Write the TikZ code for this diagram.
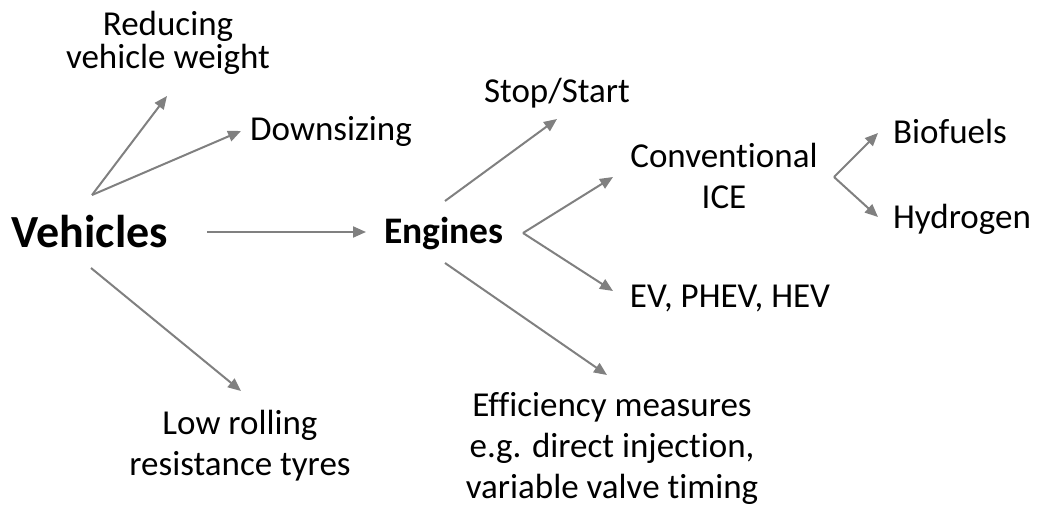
\documentclass[tikz,border=0pt]{standalone}
\usepackage{fontspec}
\setmainfont{Carlito}[Ligatures=NoCommon]
\usetikzlibrary{arrows.meta}
\definecolor{arrowgray}{RGB}{128,128,128}
\tikzset{
  lbl/.style={inner sep=0pt, outer sep=0pt, anchor=base, align=center,
    font=\fontsize{35}{41}\selectfont},
  bigbold/.style={lbl, font=\fontsize{46}{52}\selectfont\bfseries},
  midbold/.style={lbl, font=\fontsize{37.5}{43}\selectfont\bfseries},
  arr/.style={draw=arrowgray, line width=2pt,
    -{Triangle[length=13pt,width=11pt]}}
}
\begin{document}
\begin{tikzpicture}[x=1pt,y=-1pt]
\useasboundingbox (0,0) rectangle (1039,506);

% hubs (multi-line labels sit on the baseline of their last line)
\node[bigbold] (veh) at (90,247) {Vehicles};
\node[midbold] (eng) at (444,243) {Engines};

% vehicle measures
\node[lbl, font=\fontsize{35}{33}\selectfont] (red) at (168,68) {Reducing\\vehicle weight};
\node[lbl] (down) at (331,140) {Downsizing};
\node[lbl] (low) at (240,475) {Low rolling\\resistance tyres};

% engine options
\node[lbl] (stop) at (557,102) {Stop/Start};
\node[lbl] (conv) at (724,208) {Conventional\\ICE};
\node[lbl] (ev) at (730,307) {EV, PHEV, HEV};
\node[lbl] (eff) at (612,498) {Efficiency measures\\e.g. direct injection,\\variable valve timing};

% fuels
\node[lbl] (bio) at (950,143) {Biofuels};
\node[lbl] (hyd) at (962,228) {Hydrogen};

% connectors
\draw[arr] ([shift={(2pt,52pt)}]veh.base) -- ([shift={(-1pt,-28pt)}]red.base);
\draw[arr] ([shift={(2pt,52pt)}]veh.base) -- ([shift={(-90pt,9pt)}]down.base);
\draw[arr] ([shift={(117pt,15pt)}]veh.base) -- ([shift={(-78pt,11pt)}]eng.base);
\draw[arr] ([shift={(1pt,-21pt)}]veh.base) -- ([shift={(1pt,84pt)}]low.base);

\draw[arr] ([shift={(1pt,42pt)}]eng.base) -- ([shift={(0pt,-17pt)}]stop.base);
\draw[arr] ([shift={(79pt,10pt)}]eng.base) -- ([shift={(-111pt,31pt)}]conv.base);
\draw[arr] ([shift={(79pt,10pt)}]eng.base) -- ([shift={(-117pt,16pt)}]ev.base);
\draw[arr] ([shift={(1pt,-20pt)}]eng.base) -- ([shift={(-5pt,123pt)}]eff.base);

\draw[arr] ([shift={(110pt,31pt)}]conv.base) -- ([shift={(-72pt,10pt)}]bio.base);
\draw[arr] ([shift={(110pt,31pt)}]conv.base) -- ([shift={(-84pt,11pt)}]hyd.base);
\end{tikzpicture}
\end{document}
